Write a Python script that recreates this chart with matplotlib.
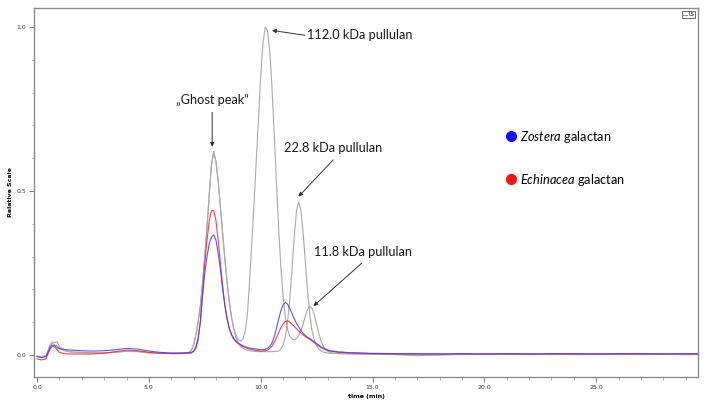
import matplotlib

matplotlib.use("Agg")
import matplotlib.pyplot as plt
from matplotlib.lines import Line2D
from matplotlib.ticker import MultipleLocator, FormatStrFormatter

plt.rcParams["mathtext.fontset"] = "custom"
plt.rcParams["mathtext.rm"] = "Lato"
plt.rcParams["mathtext.it"] = "Lato:italic"

# elution time (min), sampled densely across the peaks
time_min = [
    0.0, 0.2, 0.4, 0.5, 0.6, 0.7, 0.8, 0.9, 1.0, 1.2, 1.5, 2.0, 2.5, 3.0, 3.5, 4.0, 4.5, 5.0, 5.5, 6.0, 6.5, 6.8,
    6.9, 7.0, 7.1, 7.2, 7.3, 7.4, 7.5, 7.6, 7.7, 7.8, 7.9, 8.0, 8.1, 8.2, 8.3, 8.4, 8.5, 8.6, 8.7, 8.8, 8.9,
    9.0, 9.1, 9.2, 9.3, 9.4, 9.5, 9.6, 9.7, 9.8, 9.9, 10.0, 10.1, 10.2, 10.3, 10.4, 10.5, 10.6, 10.7, 10.8, 10.9,
    11.0, 11.1, 11.2, 11.3, 11.4, 11.5, 11.6, 11.7, 11.8, 11.9, 12.0, 12.1, 12.2, 12.3, 12.4, 12.5, 12.6, 12.7, 12.8, 12.9,
    13.0, 13.1, 13.2, 13.3, 13.4, 13.5, 13.6,
    13.8, 14.0, 14.5, 15.0, 16.0, 17.0, 18.0, 19.0, 20.0, 21.0, 22.0, 23.0, 24.0, 25.0, 26.0, 27.0, 28.0, 29.0, 29.6,
]

# standard: ghost peak + 112.0 kDa + 11.8 kDa pullulan
std_a = [
    -0.005, -0.006, -0.003, 0.015, 0.035, 0.040, 0.038, 0.040, 0.025, 0.015, 0.010, 0.008, 0.007, 0.007, 0.009, 0.012, 0.011, 0.007, 0.005, 0.005, 0.006, 0.008,
    0.015, 0.030, 0.060, 0.100, 0.150, 0.220, 0.300, 0.390, 0.490, 0.580, 0.620, 0.590, 0.530, 0.450, 0.370, 0.290, 0.220, 0.160, 0.115, 0.080, 0.060,
    0.047, 0.042, 0.048, 0.070, 0.120, 0.220, 0.340, 0.460, 0.590, 0.720, 0.850, 0.950, 1.000, 0.990, 0.930, 0.820, 0.680, 0.530, 0.390, 0.270,
    0.180, 0.115, 0.078, 0.058, 0.049, 0.046, 0.050, 0.060, 0.075, 0.095, 0.120, 0.140, 0.148, 0.142, 0.122, 0.094, 0.065, 0.042, 0.026, 0.016,
    0.011, 0.008, 0.006, 0.005, 0.005, 0.004, 0.004,
    0.004, 0.003, 0.003, 0.002, 0.001, -0.002, 0.000, 0.001, 0.002, 0.002, 0.002, 0.001, 0.002, 0.002, 0.001, 0.002, 0.002, 0.001, 0.002,
]

# standard: ghost peak + 22.8 kDa pullulan
std_b = [
    -0.004, -0.005, -0.002, 0.012, 0.030, 0.036, 0.030, 0.028, 0.020, 0.013, 0.009, 0.007, 0.006, 0.006, 0.008, 0.011, 0.010, 0.006, 0.005, 0.005, 0.005, 0.007,
    0.015, 0.030, 0.060, 0.100, 0.150, 0.220, 0.300, 0.390, 0.490, 0.580, 0.620, 0.590, 0.530, 0.450, 0.370, 0.290, 0.220, 0.160, 0.112, 0.076, 0.052,
    0.037, 0.027, 0.021, 0.017, 0.015, 0.013, 0.012, 0.011, 0.011, 0.010, 0.010, 0.010, 0.010, 0.010, 0.010, 0.010, 0.011, 0.011, 0.012, 0.018,
    0.030, 0.055, 0.100, 0.170, 0.260, 0.360, 0.440, 0.467, 0.440, 0.370, 0.280, 0.190, 0.120, 0.072, 0.045, 0.028, 0.018, 0.012, 0.009, 0.007,
    0.006, 0.005, 0.005, 0.005, 0.005, 0.004, 0.004,
    0.004, 0.004, 0.003, 0.002, 0.002, 0.001, 0.001, 0.002, 0.001, 0.002, 0.001, 0.002, 0.001, 0.001, 0.002, 0.001, 0.002, 0.001, 0.001,
]

zostera = [
    -0.005, -0.008, -0.005, 0.010, 0.025, 0.030, 0.028, 0.022, 0.020, 0.017, 0.015, 0.013, 0.012, 0.013, 0.016, 0.020, 0.018, 0.012, 0.008, 0.006, 0.006, 0.007,
    0.008, 0.012, 0.025, 0.050, 0.100, 0.180, 0.250, 0.300, 0.340, 0.360, 0.366, 0.350, 0.310, 0.260, 0.200, 0.150, 0.110, 0.080, 0.062, 0.050, 0.042,
    0.036, 0.032, 0.028, 0.025, 0.023, 0.021, 0.020, 0.019, 0.018, 0.017, 0.016, 0.016, 0.017, 0.020, 0.026, 0.036, 0.055, 0.080, 0.108, 0.135,
    0.153, 0.160, 0.155, 0.142, 0.126, 0.110, 0.096, 0.085, 0.075, 0.066, 0.059, 0.054, 0.050, 0.045, 0.040, 0.035, 0.030, 0.025, 0.021, 0.018,
    0.015, 0.013, 0.012, 0.011, 0.010, 0.009, 0.009,
    0.008, 0.007, 0.006, 0.005, 0.004, 0.004, 0.003, 0.004, 0.003, 0.004, 0.003, 0.004, 0.004, 0.003, 0.004, 0.004, 0.003, 0.004, 0.004,
]

echinacea = [
    -0.012, -0.015, -0.012, 0.005, 0.020, 0.026, 0.024, 0.015, 0.008, 0.004, 0.003, 0.003, 0.003, 0.005, 0.010, 0.015, 0.013, 0.008, 0.005, 0.004, 0.004, 0.005,
    0.006, 0.010, 0.020, 0.045, 0.100, 0.190, 0.280, 0.350, 0.410, 0.440, 0.440, 0.410, 0.350, 0.280, 0.210, 0.150, 0.110, 0.080, 0.060, 0.048, 0.040,
    0.034, 0.030, 0.026, 0.023, 0.020, 0.018, 0.017, 0.015, 0.014, 0.013, 0.012, 0.012, 0.013, 0.015, 0.020, 0.027, 0.038, 0.052, 0.068, 0.083,
    0.095, 0.102, 0.104, 0.100, 0.094, 0.087, 0.080, 0.073, 0.067, 0.061, 0.056, 0.051, 0.047, 0.042, 0.037, 0.032, 0.027, 0.023, 0.019, 0.016,
    0.014, 0.012, 0.011, 0.010, 0.009, 0.008, 0.008,
    0.007, 0.006, 0.005, 0.004, 0.003, 0.003, 0.003, 0.003, 0.003, 0.003, 0.003, 0.003, 0.003, 0.003, 0.003, 0.003, 0.003, 0.003, 0.003,
]

peak_labels = ["\u201eGhost peak\u201c", "112.0 kDa pullulan", "22.8 kDa pullulan", "11.8 kDa pullulan"]
sample_labels = [r"$\it{Zostera}$ galactan", r"$\it{Echinacea}$ galactan"]

GREY = "#a9a9a9"
BLUE = "#3b3bf5"
RED = "#f53030"

fig = plt.figure(figsize=(7.11, 4.04), dpi=100)
ax = fig.add_axes([0.048, 0.067, 0.934, 0.913])

ax.plot(time_min, std_a, color=GREY, lw=0.8)
ax.plot(time_min, std_b, color=GREY, lw=0.8)
ax.plot(time_min, echinacea, color=RED, lw=0.8, alpha=0.9)
ax.plot(time_min, zostera, color=BLUE, lw=0.8, alpha=0.85)

ax.set_xlim(-0.13, 29.56)
ax.set_ylim(-0.067, 1.058)

ax.xaxis.set_major_locator(MultipleLocator(5))
ax.xaxis.set_minor_locator(MultipleLocator(1))
ax.yaxis.set_major_locator(MultipleLocator(0.5))
ax.yaxis.set_minor_locator(MultipleLocator(0.1))
ax.xaxis.set_major_formatter(FormatStrFormatter("%.1f"))
ax.yaxis.set_major_formatter(FormatStrFormatter("%.1f"))
ax.tick_params(which="major", length=3.5, width=0.6, color="#666666", labelsize=4.5, labelcolor="#333333", pad=2)
ax.tick_params(which="minor", length=1.8, width=0.5, color="#888888")
for side in ax.spines.values():
    side.set_color("#8a8a8a")
    side.set_linewidth(1.0)

ax.set_xlabel("time (min)", fontsize=4.5, fontweight="bold", labelpad=3)
ax.set_ylabel("Relative Scale", fontsize=4.5, fontweight="bold", labelpad=3)

# peak annotations
ann = dict(fontsize=9.2, family="Lato", color="#1a1a1a")
arrow = dict(arrowstyle="-|>", color="#333333", lw=0.7, mutation_scale=6, shrinkA=0, shrinkB=0)
ax.annotate("", xy=(7.83, 0.635), xytext=(7.83, 0.74), arrowprops=arrow)
ax.text(7.83, 0.778, peak_labels[0], ha="center", va="center", **ann)
ax.annotate("", xy=(10.5, 0.99), xytext=(11.98, 0.975), arrowprops=arrow)
ax.text(12.05, 0.976, peak_labels[1], ha="left", va="center", **ann)
ax.annotate("", xy=(11.69, 0.483), xytext=(13.24, 0.595), arrowprops=arrow)
ax.text(13.24, 0.631, peak_labels[2], ha="center", va="center", **ann)
ax.annotate("", xy=(12.36, 0.149), xytext=(14.52, 0.28), arrowprops=arrow)
ax.text(14.58, 0.315, peak_labels[3], ha="center", va="center", **ann)

# small instrument legend (top right)
ls_leg = ax.legend([Line2D([], [], color="#777777", lw=0.6)], ["LS"], loc="upper right",
                   fontsize=3.5, handlelength=0.8, handletextpad=0.3, borderpad=0.25,
                   borderaxespad=0.6, fancybox=False, edgecolor="#555555", framealpha=1)
ls_leg.get_frame().set_linewidth(0.6)
ax.add_artist(ls_leg)

# sample legend
handles = [Line2D([], [], marker="o", ls="none", color="#1010ff", ms=7),
           Line2D([], [], marker="o", ls="none", color="#ff1010", ms=7)]
ax.legend(handles, sample_labels, loc="upper left", bbox_to_anchor=(0.689, 0.704), frameon=False,
          prop={"family": "Lato", "size": 9.2}, handletextpad=0.1, labelspacing=2.1, handlelength=1.2)

fig.savefig("out.png", dpi=100)
